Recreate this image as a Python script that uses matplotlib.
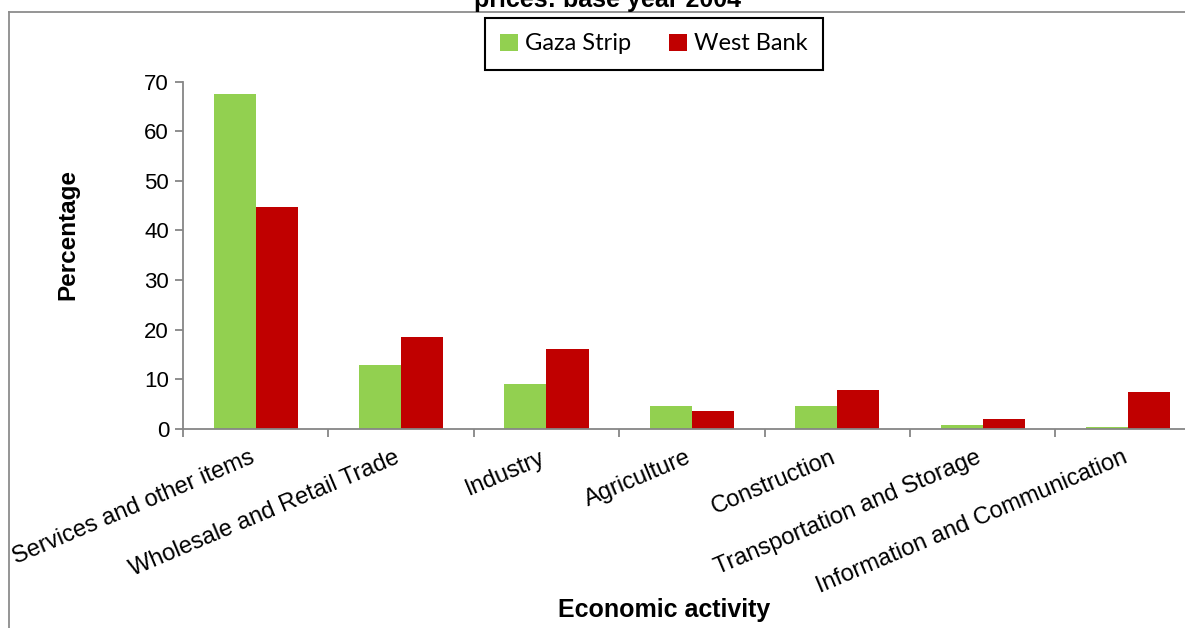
import matplotlib
matplotlib.use("Agg")
import matplotlib.pyplot as plt
from matplotlib.lines import Line2D
import numpy as np

# data
activities = ["Services and other items", "Wholesale and Retail Trade", "Industry",
              "Agriculture", "Construction", "Transportation and Storage",
              "Information and Communication"]
gaza = [67.5, 12.9, 9.1, 4.6, 4.5, 0.7, 0.4]
west_bank = [44.7, 18.5, 16.1, 3.5, 7.8, 1.9, 7.4]
yticks = [0, 10, 20, 30, 40, 50, 60, 70]

GREEN = "#92D050"
RED = "#C00000"
GREY = "#868686"

plt.rcParams["font.family"] = ["Liberation Sans", "DejaVu Sans"]

W, H = 1185, 628
fig = plt.figure(figsize=(W / 100, H / 100), dpi=100)
ax = fig.add_axes([183 / W, 1 - 428.7 / H, 1017.8 / W, 347 / H])

x = np.arange(len(activities))
bw = 0.29
ax.bar(x - bw / 2, gaza, bw, color=GREEN, label="Gaza Strip", edgecolor="none")
ax.bar(x + bw / 2, west_bank, bw, color=RED, label="West Bank", edgecolor="none")

ax.set_xlim(-0.5, len(activities) - 0.5)
ax.set_ylim(0, 70)

for s in ["top", "right"]:
    ax.spines[s].set_visible(False)
for s in ["left", "bottom"]:
    ax.spines[s].set_color(GREY)
    ax.spines[s].set_linewidth(1.3)

ax.set_yticks(yticks)
ax.tick_params(axis="y", direction="out", length=6, width=1.3, color=GREY,
               labelsize=16, pad=4)

# category boundaries as minor ticks, labels on major ticks
ax.set_xticks(np.arange(-0.5, len(activities), 1.0), minor=True)
ax.set_xticks(x)
ax.set_xticklabels(activities, rotation=23, ha="right", va="baseline",
                   rotation_mode="anchor")
ax.tick_params(axis="x", which="major", length=0, labelsize=17, pad=24)
ax.tick_params(axis="x", which="minor", direction="out", length=6, width=1.3,
               color=GREY)

fig.text(68 / W, 1 - 235 / H, "Percentage", rotation=90, ha="center", va="center",
         fontsize=17.5, fontweight="bold")
fig.text(664 / W, 1 - 617 / H, "Economic activity", ha="center", va="baseline",
         fontsize=18, fontweight="bold")

# tail of the cut-off title
fig.text(608 / W, 1 - 7 / H, "prices: base year 2004", ha="center", va="baseline",
         fontsize=18, fontweight="bold")

# outer chart frame
fig.add_artist(Line2D([9 / W, 9 / W], [0, 1 - 12 / H], transform=fig.transFigure,
                      color="#8c8c8c", lw=1.3))
fig.add_artist(Line2D([9 / W, 1], [1 - 12 / H, 1 - 12 / H], transform=fig.transFigure,
                      color="#8c8c8c", lw=1.3))

leg = fig.legend(loc="center", bbox_to_anchor=(654 / W, 1 - 44 / H), ncol=2,
                 prop={"family": "Lato", "size": 17}, frameon=True, fancybox=False,
                 edgecolor="black", framealpha=1, handlelength=0.75,
                 handleheight=0.75, handletextpad=0.3, columnspacing=1.6,
                 borderpad=0.65)
leg.get_frame().set_linewidth(1.5)

fig.savefig("out.png", dpi=100)
